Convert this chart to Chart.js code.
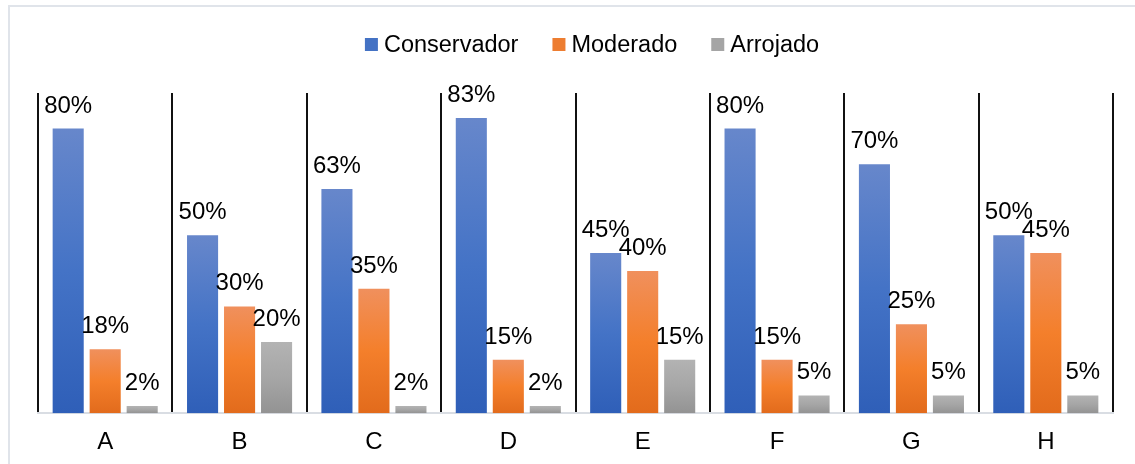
<!DOCTYPE html>
<html>
<head>
<meta charset="utf-8">
<script src="https://cdn.jsdelivr.net/npm/chart.js@4/dist/chart.umd.min.js"></script>
<style>
  html, body { margin: 0; padding: 0; background: #ffffff; }
  #wrap { position: relative; width: 1135px; height: 464px; }
</style>
</head>
<body>
<div id="wrap"><canvas id="chart" width="1135" height="464"></canvas></div>
<script>
// Profile share per group (percent)
const categories = ['A', 'B', 'C', 'D', 'E', 'F', 'G', 'H'];
const seriesNames = ['Conservador', 'Moderado', 'Arrojado'];
const conservador = [80, 50, 63, 83, 45, 80, 70, 50];
const moderado = [18, 30, 35, 15, 40, 15, 25, 45];
const arrojado = [2, 20, 2, 2, 15, 5, 5, 5];
const yMax = 90;

const FONT = "'Liberation Sans', Arial, sans-serif";

// top / middle / bottom shades for each series
const palettes = [
  ['#6787cb', '#4473c6', '#2f5fb8'],
  ['#f0905d', '#f47f2b', '#e26b1c'],
  ['#b3b3b3', '#a6a6a6', '#939393']
];
const legendColors = ['#4472c4', '#ed7d31', '#a5a5a5'];

function barGradient(idx) {
  return function (ctx) {
    const chart = ctx.chart;
    const p = palettes[idx];
    if (ctx.type !== 'data' || !chart.chartArea || !chart.scales.y) return p[1];
    const top = chart.scales.y.getPixelForValue(ctx.raw);
    const bottom = chart.scales.y.getPixelForValue(0);
    if (!isFinite(top) || !isFinite(bottom) || top === bottom) return p[1];
    const g = chart.ctx.createLinearGradient(0, top, 0, bottom);
    g.addColorStop(0, p[0]);
    g.addColorStop(0.5, p[1]);
    g.addColorStop(1, p[2]);
    return g;
  };
}

// Outer frame lines
const framePlugin = {
  id: 'frame',
  beforeDraw(chart) {
    const c = chart.ctx;
    c.save();
    c.fillStyle = '#e0e4ea';
    c.fillRect(8, 5, chart.width - 8, 2);
    c.fillRect(8, 5, 2, chart.height - 5);
    c.restore();
  }
};

// Legend row above the plot
const legendPlugin = {
  id: 'topLegend',
  afterDraw(chart) {
    const c = chart.ctx;
    c.save();
    c.font = '23.5px ' + FONT;
    c.textBaseline = 'middle';
    const box = 13, gapText = 6, gapItem = 34;
    const widths = seriesNames.map(n => c.measureText(n).width);
    let total = 0;
    widths.forEach((w, i) => { total += box + gapText + w + (i < widths.length - 1 ? gapItem : 0); });
    let x = 592 - total / 2;
    const cy = 44.5;
    seriesNames.forEach((n, i) => {
      c.fillStyle = legendColors[i];
      c.fillRect(x, cy - box / 2, box, box);
      x += box + gapText;
      c.fillStyle = '#000000';
      c.fillText(n, x, cy + 1);
      x += widths[i] + gapItem;
    });
    c.restore();
  }
};

// Value labels above each bar
const valueLabels = {
  id: 'valueLabels',
  afterDatasetsDraw(chart) {
    const c = chart.ctx;
    c.save();
    c.font = '24px ' + FONT;
    c.fillStyle = '#000000';
    c.textAlign = 'center';
    c.textBaseline = 'alphabetic';
    chart.data.datasets.forEach((ds, di) => {
      const meta = chart.getDatasetMeta(di);
      meta.data.forEach((el, i) => {
        c.fillText(ds.data[i] + '%', el.x, el.y - 16);
      });
    });
    c.restore();
  }
};

const seriesData = [conservador, moderado, arrojado];

new Chart(document.getElementById('chart'), {
  type: 'bar',
  data: {
    labels: categories,
    datasets: seriesNames.map((name, i) => ({
      label: name,
      data: seriesData[i],
      backgroundColor: barGradient(i),
      borderWidth: 0,
      categoryPercentage: 0.826,
      barPercentage: 0.84
    }))
  },
  options: {
    responsive: false,
    animation: false,
    devicePixelRatio: 1,
    layout: { padding: { left: 38, right: 22, top: 93, bottom: -8 } },
    plugins: {
      legend: { display: false },
      title: { display: false },
      tooltip: { enabled: false }
    },
    scales: {
      x: {
        offset: true,
        grid: {
          display: true,
          offset: true,
          color: '#111111',
          lineWidth: 2,
          drawTicks: false,
          tickLength: 0
        },
        border: { display: true, color: '#d9dde3', width: 2 },
        ticks: {
          color: '#000000',
          padding: 15,
          font: { family: FONT, size: 24 }
        }
      },
      y: {
        display: false,
        min: 0,
        max: yMax
      }
    }
  },
  plugins: [framePlugin, valueLabels, legendPlugin]
});
</script>
</body>
</html>
